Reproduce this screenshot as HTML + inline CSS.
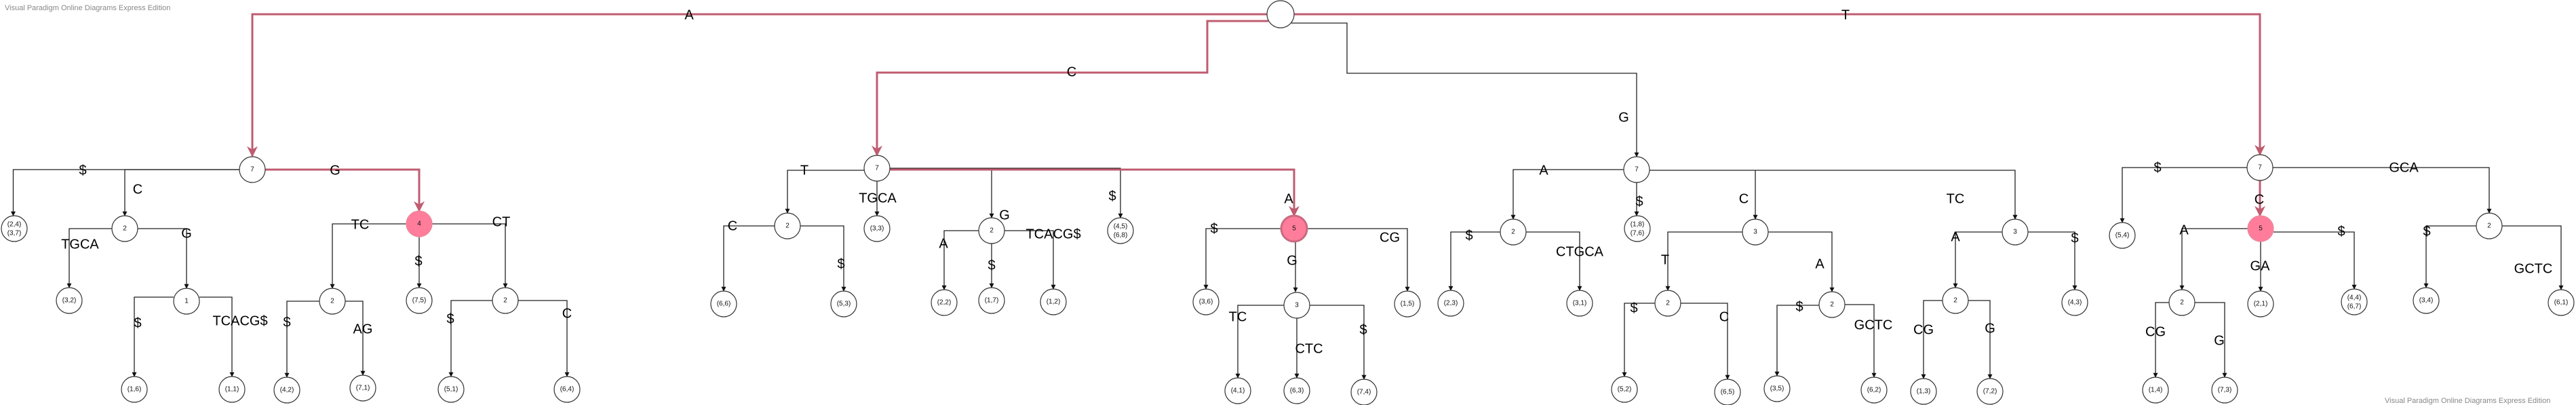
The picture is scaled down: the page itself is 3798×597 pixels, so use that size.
<!DOCTYPE html>
<html><head><meta charset="utf-8"><style>
html,body{margin:0;padding:0;background:#fff;width:3798px;height:597px;overflow:hidden}
svg{display:block}
.e{fill:none;stroke:#222;stroke-width:1.3}
.r{fill:none;stroke:#bf5c70;stroke-width:3}
.n{fill:#fff;stroke:#333;stroke-width:1.2}
.p{fill:#ff7d9b;stroke:#e8899c;stroke-width:1.2}
.pd{fill:#ff7d9b;stroke:#c96a80;stroke-width:3}
text{font-family:"Liberation Sans",sans-serif}
.l{font-size:20px;fill:#000;text-anchor:middle;dominant-baseline:middle}
.t{font-size:10px;fill:#111;text-anchor:middle;dominant-baseline:middle}
.w{font-size:11px;fill:#888}
</style></head><body>
<svg width="3798" height="597" viewBox="0 0 3798 597" xmlns="http://www.w3.org/2000/svg">
<defs>
<marker id="a" viewBox="0 0 10 10" refX="9" refY="5" markerWidth="7" markerHeight="7" markerUnits="userSpaceOnUse" orient="auto"><path d="M0,0 L10,5 L0,10 z" fill="#111"/></marker>
<marker id="ar" viewBox="0 0 10 10" refX="9" refY="5" markerWidth="16" markerHeight="16" markerUnits="userSpaceOnUse" orient="auto"><path d="M0,0 L10,5 L0,10 L3,5 z" fill="#bf5c70"/></marker>
</defs>
<text class="w" x="7" y="15">Visual Paradigm Online Diagrams Express Edition</text>
<text class="w" x="3516" y="594">Visual Paradigm Online Diagrams Express Edition</text>

<g class="e" marker-end="url(#a)">
<path d="M372 250 H19.5 V318"/>
<path d="M353 250 H184 V318"/>
<path d="M165 337 H102 V424"/>
<path d="M203 337 H275 V425"/>
<path d="M256 438 H198 V555"/>
<path d="M294 438 H342 V555"/>
<path d="M599 330 H490 V425"/>
<path d="M618 349 V424"/>
<path d="M637 330 H745 V424"/>
<path d="M471 444 H423 V556"/>
<path d="M509 444 H535 V553"/>
<path d="M726 443 H665 V555"/>
<path d="M764 443 H836 V555"/>
<path d="M1274 251 H1161 V314"/>
<path d="M1293 267 V318"/>
<path d="M1312 248 H1652 V321"/>
<path d="M1462 248 V321"/>
<path d="M1142 333 H1067 V429"/>
<path d="M1180 333 H1244 V429"/>
<path d="M1443 340 H1392 V427"/>
<path d="M1462 359 V424"/>
<path d="M1481 340 H1553 V426"/>
<path d="M1889 337 H1778 V426"/>
<path d="M1910 356 V430"/>
<path d="M1927 337 H2075 V429"/>
<path d="M1893 450 H1825 V557"/>
<path d="M1912 469 V557"/>
<path d="M1931 450 H2011 V559"/>
<path d="M1904 34 H1986 V108 H2413 V231"/>
<path d="M2394 250 H2231 V323"/>
<path d="M2413 269 V318"/>
<path d="M2432 251 H2971 V323"/>
<path d="M2588 251 V323"/>
<path d="M2212 342 H2139 V428"/>
<path d="M2250 342 H2329 V428"/>
<path d="M2569 342 H2459 V428"/>
<path d="M2607 342 H2701 V430"/>
<path d="M2440 447 H2395 V555"/>
<path d="M2478 447 H2547 V559"/>
<path d="M2682 450 H2620 V554"/>
<path d="M2720 449 H2763 V556"/>
<path d="M2952 342 H2883 V424"/>
<path d="M2990 342 H3059 V427"/>
<path d="M2864 443 H2836 V558"/>
<path d="M2902 443 H2934 V558"/>
<path d="M3313 247 H3129 V328"/>
<path d="M3351 247 H3670 V314"/>
<path d="M3314 337 H3217 V427"/>
<path d="M3333 356 V429"/>
<path d="M3352 342 H3471 V426"/>
<path d="M3198 446 H3178 V556"/>
<path d="M3236 446 H3280 V556"/>
<path d="M3651 333 H3577 V424"/>
<path d="M3689 333 H3776 V427"/>
</g>

<g class="r" marker-end="url(#ar)">
<path d="M1868 21 H372 V230"/>
<path d="M391 250 H618 V311"/>
<path d="M1870 31 H1780 V107 H1293 V229"/>
<path d="M1312 250 H1908 V318"/>
<path d="M1908 21 H3332 V228"/>
<path d="M3332 266 V318"/>
</g>

<!-- nodes -->
<g>
<circle class="n" cx="1888" cy="21" r="20"/>
<circle class="n" cx="372" cy="250" r="19"/><text class="t" x="372" y="250">7</text>
<circle class="n" cx="21" cy="337" r="19"/><text class="t" x="21" y="331">(2,4)</text><text class="t" x="21" y="344">(3,7)</text>
<circle class="n" cx="184" cy="337" r="19"/><text class="t" x="184" y="337">2</text>
<circle class="n" cx="102" cy="443" r="19"/><text class="t" x="102" y="443">(3,2)</text>
<circle class="n" cx="275" cy="444" r="19"/><text class="t" x="275" y="444">1</text>
<circle class="n" cx="198" cy="574" r="19"/><text class="t" x="198" y="574">(1,6)</text>
<circle class="n" cx="342" cy="574" r="19"/><text class="t" x="342" y="574">(1,1)</text>
<circle class="p" cx="618" cy="330" r="19"/><text class="t" x="618" y="330">4</text>
<circle class="n" cx="490" cy="444" r="19"/><text class="t" x="490" y="444">2</text>
<circle class="n" cx="618" cy="443" r="19"/><text class="t" x="618" y="443">(7,5)</text>
<circle class="n" cx="745" cy="443" r="19"/><text class="t" x="745" y="443">2</text>
<circle class="n" cx="423" cy="575" r="19"/><text class="t" x="423" y="575">(4,2)</text>
<circle class="n" cx="535" cy="572" r="19"/><text class="t" x="535" y="572">(7,1)</text>
<circle class="n" cx="665" cy="574" r="19"/><text class="t" x="665" y="574">(5,1)</text>
<circle class="n" cx="836" cy="574" r="19"/><text class="t" x="836" y="574">(6,4)</text>

<circle class="n" cx="1293" cy="248" r="19"/><text class="t" x="1293" y="248">7</text>
<circle class="n" cx="1161" cy="333" r="19"/><text class="t" x="1161" y="333">2</text>
<circle class="n" cx="1293" cy="337" r="19"/><text class="t" x="1293" y="337">(3,3)</text>
<circle class="n" cx="1067" cy="448" r="19"/><text class="t" x="1067" y="448">(6,6)</text>
<circle class="n" cx="1244" cy="448" r="19"/><text class="t" x="1244" y="448">(5,3)</text>
<circle class="n" cx="1462" cy="340" r="19"/><text class="t" x="1462" y="340">2</text>
<circle class="n" cx="1652" cy="340" r="19"/><text class="t" x="1652" y="334">(4,5)</text><text class="t" x="1652" y="347">(6,8)</text>
<circle class="n" cx="1392" cy="446" r="19"/><text class="t" x="1392" y="446">(2,2)</text>
<circle class="n" cx="1462" cy="443" r="19"/><text class="t" x="1462" y="443">(1,7)</text>
<circle class="n" cx="1553" cy="445" r="19"/><text class="t" x="1553" y="445">(1,2)</text>
<circle class="pd" cx="1908" cy="337" r="19"/><text class="t" x="1908" y="337">5</text>
<circle class="n" cx="1778" cy="445" r="19"/><text class="t" x="1778" y="445">(3,6)</text>
<circle class="n" cx="1912" cy="450" r="19"/><text class="t" x="1912" y="450">3</text>
<circle class="n" cx="2075" cy="448" r="19"/><text class="t" x="2075" y="448">(1,5)</text>
<circle class="n" cx="1825" cy="576" r="19"/><text class="t" x="1825" y="576">(4,1)</text>
<circle class="n" cx="1912" cy="576" r="19"/><text class="t" x="1912" y="576">(6,3)</text>
<circle class="n" cx="2011" cy="578" r="19"/><text class="t" x="2011" y="578">(7,4)</text>

<circle class="n" cx="2413" cy="250" r="19"/><text class="t" x="2413" y="250">7</text>
<circle class="n" cx="2231" cy="342" r="19"/><text class="t" x="2231" y="342">2</text>
<circle class="n" cx="2414" cy="337" r="19"/><text class="t" x="2414" y="331">(1,8)</text><text class="t" x="2414" y="344">(7,6)</text>
<circle class="n" cx="2139" cy="447" r="19"/><text class="t" x="2139" y="447">(2,3)</text>
<circle class="n" cx="2329" cy="447" r="19"/><text class="t" x="2329" y="447">(3,1)</text>
<circle class="n" cx="2588" cy="342" r="19"/><text class="t" x="2588" y="342">3</text>
<circle class="n" cx="2459" cy="447" r="19"/><text class="t" x="2459" y="447">2</text>
<circle class="n" cx="2701" cy="449" r="19"/><text class="t" x="2701" y="449">2</text>
<circle class="n" cx="2395" cy="574" r="19"/><text class="t" x="2395" y="574">(5,2)</text>
<circle class="n" cx="2547" cy="578" r="19"/><text class="t" x="2547" y="578">(6,5)</text>
<circle class="n" cx="2620" cy="573" r="19"/><text class="t" x="2620" y="573">(3,5)</text>
<circle class="n" cx="2763" cy="575" r="19"/><text class="t" x="2763" y="575">(6,2)</text>
<circle class="n" cx="2971" cy="342" r="19"/><text class="t" x="2971" y="342">3</text>
<circle class="n" cx="2883" cy="443" r="19"/><text class="t" x="2883" y="443">2</text>
<circle class="n" cx="3059" cy="446" r="19"/><text class="t" x="3059" y="446">(4,3)</text>
<circle class="n" cx="2836" cy="577" r="19"/><text class="t" x="2836" y="577">(1,3)</text>
<circle class="n" cx="2934" cy="577" r="19"/><text class="t" x="2934" y="577">(7,2)</text>

<circle class="n" cx="3332" cy="247" r="19"/><text class="t" x="3332" y="247">7</text>
<circle class="n" cx="3129" cy="347" r="19"/><text class="t" x="3129" y="347">(5,4)</text>
<circle class="p" cx="3333" cy="337" r="19"/><text class="t" x="3333" y="337">5</text>
<circle class="n" cx="3670" cy="333" r="19"/><text class="t" x="3670" y="333">2</text>
<circle class="n" cx="3217" cy="446" r="19"/><text class="t" x="3217" y="446">2</text>
<circle class="n" cx="3333" cy="448" r="19"/><text class="t" x="3333" y="448">(2,1)</text>
<circle class="n" cx="3471" cy="445" r="19"/><text class="t" x="3471" y="439">(4,4)</text><text class="t" x="3471" y="452">(6,7)</text>
<circle class="n" cx="3178" cy="575" r="19"/><text class="t" x="3178" y="575">(1,4)</text>
<circle class="n" cx="3280" cy="575" r="19"/><text class="t" x="3280" y="575">(7,3)</text>
<circle class="n" cx="3577" cy="443" r="19"/><text class="t" x="3577" y="443">(3,4)</text>
<circle class="n" cx="3776" cy="446" r="19"/><text class="t" x="3776" y="446">(6,1)</text>
</g>

<!-- edge labels -->
<g>
<text class="l" x="1016" y="23">A</text>
<text class="l" x="1580" y="107">C</text>
<text class="l" x="2721" y="23">T</text>
<text class="l" x="2394" y="174">G</text>
<text class="l" x="122" y="252">$</text>
<text class="l" x="203" y="280">C</text>
<text class="l" x="494" y="252">G</text>
<text class="l" x="118" y="361">TGCA</text>
<text class="l" x="275" y="345">G</text>
<text class="l" x="203" y="477">$</text>
<text class="l" x="354" y="474">TCACG$</text>
<text class="l" x="531" y="332">TC</text>
<text class="l" x="617" y="386">$</text>
<text class="l" x="739" y="328">CT</text>
<text class="l" x="423" y="476">$</text>
<text class="l" x="535" y="486">AG</text>
<text class="l" x="664" y="471">$</text>
<text class="l" x="836" y="463">C</text>

<text class="l" x="1186" y="252">T</text>
<text class="l" x="1294" y="293">TGCA</text>
<text class="l" x="1080" y="334">C</text>
<text class="l" x="1240" y="390">$</text>
<text class="l" x="1640" y="290">$</text>
<text class="l" x="1481" y="318">G</text>
<text class="l" x="1900" y="294">A</text>
<text class="l" x="1391" y="360">A</text>
<text class="l" x="1462" y="392">$</text>
<text class="l" x="1553" y="346">TCACG$</text>
<text class="l" x="1790" y="338">$</text>
<text class="l" x="1905" y="385">G</text>
<text class="l" x="2049" y="351">CG</text>
<text class="l" x="1825" y="468">TC</text>
<text class="l" x="1930" y="515">CTC</text>
<text class="l" x="2010" y="487">$</text>

<text class="l" x="2276" y="252">A</text>
<text class="l" x="2417" y="298">$</text>
<text class="l" x="2571" y="294">C</text>
<text class="l" x="2883" y="294">TC</text>
<text class="l" x="2166" y="348">$</text>
<text class="l" x="2329" y="372">CTGCA</text>
<text class="l" x="2455" y="384">T</text>
<text class="l" x="2683" y="390">A</text>
<text class="l" x="2409" y="455">$</text>
<text class="l" x="2542" y="468">C</text>
<text class="l" x="2653" y="453">$</text>
<text class="l" x="2762" y="480">GCTC</text>
<text class="l" x="2883" y="350">A</text>
<text class="l" x="3059" y="352">$</text>
<text class="l" x="2836" y="487">CG</text>
<text class="l" x="2934" y="485">G</text>

<text class="l" x="3181" y="248">$</text>
<text class="l" x="3331" y="295">C</text>
<text class="l" x="3544" y="248">GCA</text>
<text class="l" x="3220" y="340">A</text>
<text class="l" x="3332" y="393">GA</text>
<text class="l" x="3452" y="342">$</text>
<text class="l" x="3178" y="490">CG</text>
<text class="l" x="3272" y="503">G</text>
<text class="l" x="3578" y="342">$</text>
<text class="l" x="3735" y="397">GCTC</text>
</g>
</svg>
</body></html>
